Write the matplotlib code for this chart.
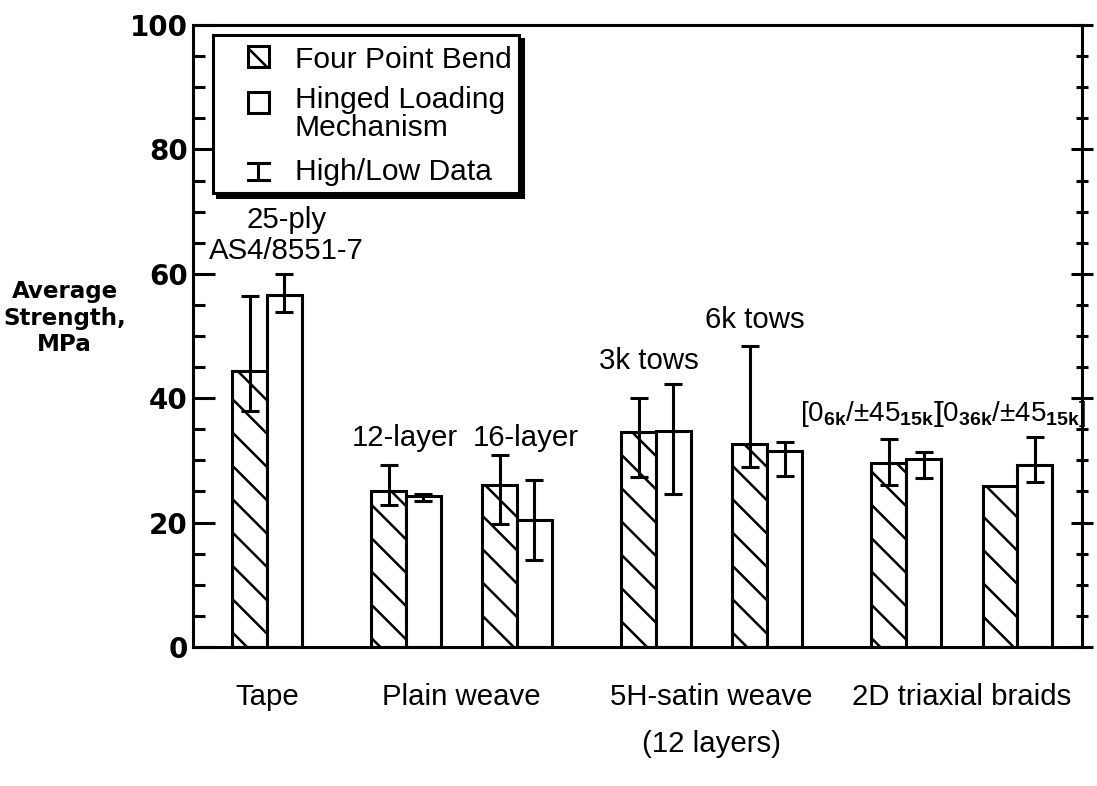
import matplotlib
matplotlib.use('Agg')
import matplotlib.pyplot as plt
from matplotlib.patches import Rectangle
from matplotlib.lines import Line2D
import numpy as np

# ---------------- data ----------------
categories = ["Tape", "Plain weave", "5H-satin weave\n(12 layers)", "2D triaxial braids"]
pair_names = ["25-ply AS4/8551-7", "12-layer", "16-layer", "3k tows", "6k tows",
              "[0_6k/±45_15k]", "[0_36k/±45_15k]"]
fpb = [44.4, 25.0, 26.0, 34.6, 32.6, 29.6, 25.8]            # Four Point Bend
fpb_lo = [38.0, 22.8, 19.7, 27.4, 29.0, 26.1, np.nan]
fpb_hi = [56.5, 29.3, 30.8, 40.0, 48.4, 33.5, np.nan]
hlm = [56.6, 24.2, 20.4, 34.8, 31.5, 30.2, 29.3]            # Hinged Loading Mechanism
hlm_lo = [53.9, 23.4, 14.0, 24.6, 27.5, 27.1, 26.5]
hlm_hi = [60.0, 24.6, 26.8, 42.3, 33.0, 31.4, 33.7]
yticks = [0, 20, 40, 60, 80, 100]

# ---------------- layout ----------------
pair_x = np.array([0.0, 1.0, 1.8, 2.8, 3.6, 4.6, 5.4])
cat_x = [0.0, 1.4, 3.2, 5.0]
w = 0.25

plt.rcParams['font.family'] = ['Liberation Sans', 'DejaVu Sans']
plt.rcParams['mathtext.fontset'] = 'custom'
plt.rcParams['mathtext.rm'] = 'Liberation Sans'
plt.rcParams['mathtext.bf'] = 'Liberation Sans:bold'
plt.rcParams['hatch.linewidth'] = 0.9

fig = plt.figure(figsize=(5.485, 3.93), dpi=200)
ax = fig.add_axes([0.176, 0.177, 0.810, 0.791])

lw = 1.1
ax.bar(pair_x - w / 2, fpb, width=w, facecolor='white', edgecolor='black',
       hatch='\\\\', linewidth=lw, zorder=2)
ax.bar(pair_x + w / 2, hlm, width=w, facecolor='white', edgecolor='black',
       linewidth=lw, zorder=2)

def errbars(xs, lo, hi):
    lo = np.asarray(lo, float); hi = np.asarray(hi, float)
    m = ~np.isnan(lo)
    mid = (lo + hi) / 2
    half = (hi - lo) / 2
    ax.errorbar(xs[m], mid[m], yerr=half[m], fmt='none', ecolor='black',
                elinewidth=lw, capsize=3.1, capthick=lw, zorder=3)

errbars(pair_x - w / 2, fpb_lo, fpb_hi)
errbars(pair_x + w / 2, hlm_lo, hlm_hi)

ax.set_xlim(-0.532, 5.863)
ax.set_ylim(0, 100)
for s in ax.spines.values():
    s.set_linewidth(lw)

ax.set_xticks(cat_x)
ax.set_xticklabels(categories, fontsize=10.6)
ax.tick_params(axis='x', length=0, pad=13)
for lab in ax.get_xticklabels():
    lab.set_linespacing(1.85)

ax.set_yticks(yticks)
ax.set_yticklabels([str(t) for t in yticks], fontfamily='DejaVu Sans',
                   fontweight='bold', fontsize=10)
ax.set_yticks(np.arange(0, 101, 5), minor=True)
ax.tick_params(axis='y', which='major', direction='in', length=7.9, width=lw,
               pad=2, left=True, right=False)
ax.tick_params(axis='y', which='minor', direction='in', length=4.3, width=lw,
               left=True, right=False)

# right-hand ticks
axr = ax.twinx()
axr.set_ylim(0, 100)
axr.set_yticks(yticks)
axr.set_yticks(np.arange(0, 101, 5), minor=True)
axr.set_yticklabels([])
axr.tick_params(axis='y', which='major', direction='inout', length=8.0, width=lw)
axr.tick_params(axis='y', which='minor', direction='inout', length=4.5, width=lw)
for s in axr.spines.values():
    s.set_visible(False)

fig.text(0.059, 0.595, "Average\nStrength,\nMPa", ha='center', va='center',
         fontfamily='DejaVu Sans', fontweight='bold', fontsize=8.3, linespacing=1.2)

# annotations
fs = 10.6
ax.text(pair_x[0] + 0.14, 67.4, "25-ply", ha='center', va='baseline', fontsize=fs)
ax.text(pair_x[0] + 0.14, 62.4, "AS4/8551-7", ha='center', va='baseline', fontsize=fs)
ax.text(pair_x[1] - 0.01, 32.3, "12-layer", ha='center', va='baseline', fontsize=fs)
ax.text(pair_x[2] + 0.06, 32.3, "16-layer", ha='center', va='baseline', fontsize=fs)
ax.text(pair_x[3] - 0.05, 44.7, "3k tows", ha='center', va='baseline', fontsize=fs)
ax.text(pair_x[4] - 0.09, 51.3, "6k tows", ha='center', va='baseline', fontsize=fs)
bfs = 10.0
ax.text(pair_x[5] - 0.26, 36.4, r"[0$_{\mathbf{6k}}$/±45$_{\mathbf{15k}}$]",
        ha='center', va='baseline', fontsize=bfs)
ax.text(pair_x[6] - 0.05, 36.4, r"[0$_{\mathbf{36k}}$/±45$_{\mathbf{15k}}$]",
        ha='center', va='baseline', fontsize=bfs, clip_on=False)

# legend (drawn manually)
T = ax.transAxes
bx, by, bw, bh = 0.022, 0.730, 0.345, 0.254
ax.add_patch(Rectangle((bx + 0.0045, by - 0.0065), bw, bh, transform=T,
                       facecolor='black', edgecolor='black', lw=lw, zorder=5))
ax.add_patch(Rectangle((bx, by), bw, bh, transform=T, facecolor='white',
                       edgecolor='black', lw=lw, zorder=6))
sw, sh = 0.0236, 0.0338
hx = 0.0734
ax.add_patch(Rectangle((hx - sw / 2, 0.950 - sh / 2), sw, sh, transform=T,
                       facecolor='white', edgecolor='black', hatch='\\\\',
                       lw=lw, zorder=7))
ax.add_patch(Rectangle((hx - sw / 2, 0.876 - sh / 2), sw, sh, transform=T,
                       facecolor='white', edgecolor='black', lw=lw, zorder=7))
eh = 0.027
for seg in ([(hx, hx), (0.764 - eh / 2, 0.764 + eh / 2)],
            [(hx - sw / 2, hx + sw / 2), (0.764 + eh / 2, 0.764 + eh / 2)],
            [(hx - sw / 2, hx + sw / 2), (0.764 - eh / 2, 0.764 - eh / 2)]):
    ax.add_line(Line2D(seg[0], seg[1], transform=T, color='black', lw=lw, zorder=7))
tx = 0.1143
lfs = 10.8
ax.text(tx, 0.9437, "Four Point Bend", transform=T, va='center', fontsize=lfs, zorder=8)
ax.text(tx, 0.8794, "Hinged Loading", transform=T, va='center', fontsize=lfs, zorder=8)
ax.text(tx, 0.834, "Mechanism", transform=T, va='center', fontsize=lfs, zorder=8)
ax.text(tx, 0.7637, "High/Low Data", transform=T, va='center', fontsize=lfs, zorder=8)

fig.savefig("out.png", dpi=200)
